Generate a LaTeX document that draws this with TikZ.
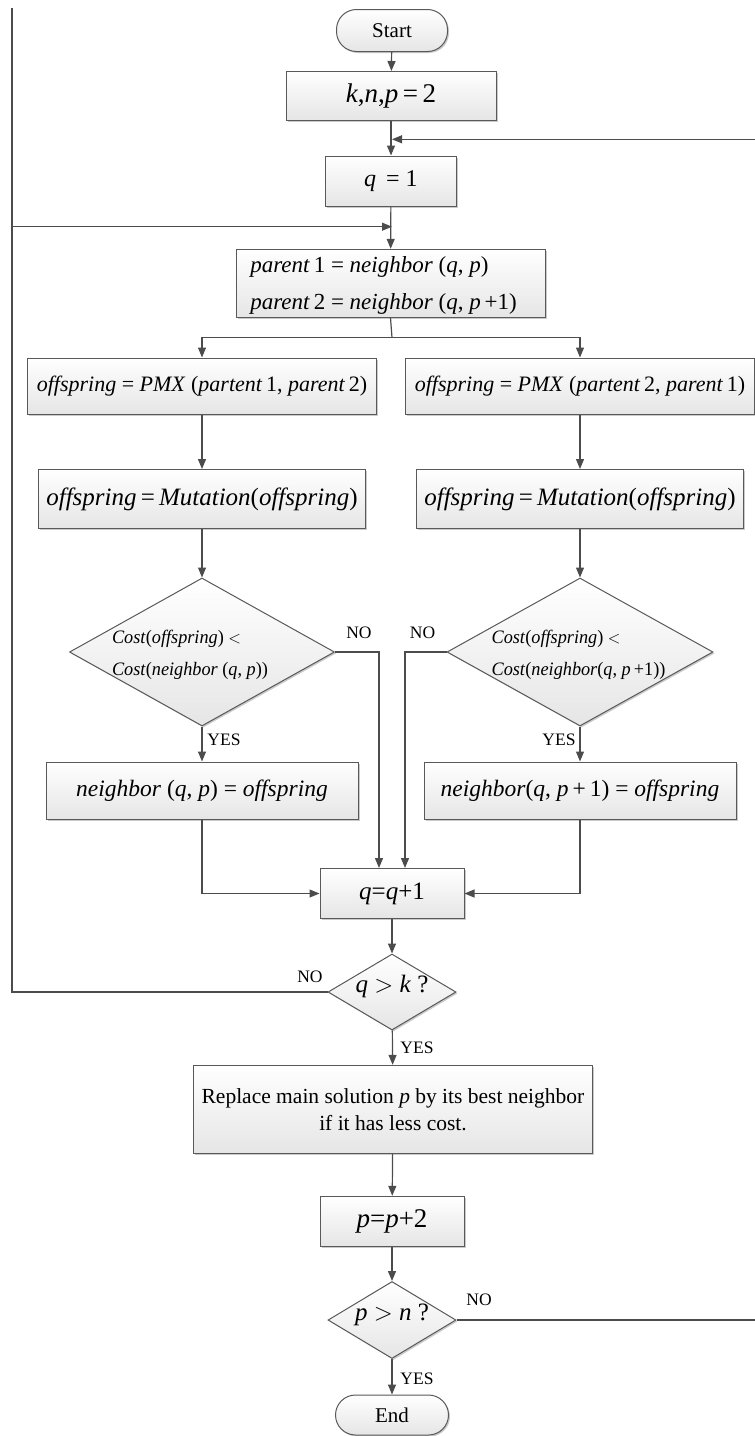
\documentclass[tikz,border=0pt]{standalone}
\usepackage{fontspec}
\usepackage{graphicx}
\setmainfont{Liberation Serif}
\usetikzlibrary{arrows.meta,shapes.geometric,shadows}
\newcommand\itx[1]{\textit{#1}}
\begin{document}
\begin{tikzpicture}[x=1pt,y=-1pt,
  line/.style={draw=black!70, line width=1.2pt},
  arr/.style={line, -{Triangle[length=10pt,width=8pt]}},
  box/.style={draw=black!65, line width=1pt, top color=white, bottom color=black!10,
    drop shadow={shadow xshift=1.5pt,shadow yshift=-1.5pt,fill=black!35,opacity=.6},
    inner sep=0pt, font=\fontsize{22}{26}\selectfont},
  term/.style={box, rounded corners=20pt},
  dia/.style={box, shape=diamond, aspect=1.8},
  lab/.style={font=\fontsize{17.5}{20}\selectfont, inner sep=0pt}
]
\useasboundingbox (0,0) rectangle (755,1436);

% nodes
\node[term, minimum width=111pt, minimum height=42pt, font=\fontsize{21}{26}\selectfont] (start) at (392,30.5) {Start};
\node[box, minimum width=210pt, minimum height=49pt, font=\fontsize{27}{30}\selectfont] (knp) at (391,96) {\itx{k},\itx{n},\itx{p}\,=\,2};
\node[box, minimum width=131pt, minimum height=50pt, font=\fontsize{24}{26}\selectfont] (q1) at (391,181) {\itx{q} \,= 1};
\node[box, minimum width=309pt, minimum height=68pt, font=\fontsize{23}{34}\selectfont] (par) at (390.5,283.3)
  {\smash{\makebox[0pt]{\hspace*{-14pt}\raisebox{-7pt}{\begin{tabular}{@{}l@{}}\itx{parent}\,1 = \itx{neighbor} (\itx{q}, \itx{p})\\[3pt] \itx{parent}\,2 = \itx{neighbor} (\itx{q}, \itx{p}\,+1)\end{tabular}}}}};
\node[box, minimum width=349pt, minimum height=56pt] (pmxL) at (202,386)
  {\itx{offspring} = \itx{PMX} (\itx{partent}\,1, \itx{parent}\,2)};
\node[box, minimum width=349pt, minimum height=56pt] (pmxR) at (580,386)
  {\itx{offspring} = \itx{PMX} (\itx{partent}\,2, \itx{parent}\,1)};
\node[box, minimum width=327pt, minimum height=59pt, font=\fontsize{25}{26}\selectfont] (mutL) at (202,499)
  {\itx{offspring}\,=\,\itx{Mutation}(\itx{offspring})};
\node[box, minimum width=327pt, minimum height=59pt, font=\fontsize{25}{26}\selectfont] (mutR) at (580,499)
  {\itx{offspring}\,=\,\itx{Mutation}(\itx{offspring})};
\node[dia, minimum width=265pt, minimum height=148pt] (diaL) at (202,652)
  {\smash{\makebox[0pt]{\hspace*{-24pt}\raisebox{-6pt}{\scalebox{0.96}[1]{\fontsize{19}{30}\selectfont\begin{tabular}{@{}l@{}}\itx{Cost}(\itx{offspring}) $<$\\[2pt] \itx{Cost}(\itx{neighbor} (\itx{q}, \itx{p}))\end{tabular}}}}}};
\node[dia, minimum width=266pt, minimum height=148pt] (diaR) at (580,652)
  {\smash{\makebox[0pt]{\hspace*{-3pt}\raisebox{-6pt}{\scalebox{0.96}[1]{\fontsize{19}{30}\selectfont\begin{tabular}{@{}l@{}}\itx{Cost}(\itx{offspring}) $<$\\[2pt] \itx{Cost}(\itx{neighbor}(\itx{q}, \itx{p}\,+1))\end{tabular}}}}}};
\node[box, minimum width=312pt, minimum height=57pt, font=\fontsize{23.5}{26}\selectfont] (nbL) at (202,790.5)
  {\itx{neighbor} (\itx{q}, \itx{p}) = \itx{offspring}};
\node[box, minimum width=312pt, minimum height=57pt, font=\fontsize{23.5}{26}\selectfont] (nbR) at (580,790.5)
  {\itx{neighbor}(\itx{q}, \itx{p}\,+\,1) = \itx{offspring}};
\node[box, minimum width=144pt, minimum height=50pt, font=\fontsize{25}{26}\selectfont] (qq) at (392,893.5) {\itx{q}=\itx{q}+1};
\node[dia, minimum width=128pt, minimum height=76pt] (qk) at (392,992)
  {\smash{\makebox[0pt]{\fontsize{25}{26}\selectfont\itx{q} $>$ \itx{k} ?}}};
\node[box, minimum width=399pt, minimum height=88pt, align=center, font=\fontsize{21.5}{27}\selectfont] (rep) at (393,1109.3)
  {Replace main solution \itx{p} by its best neighbor\\ if it has less cost.};
\node[box, minimum width=144pt, minimum height=50pt, font=\fontsize{27}{26}\selectfont] (pp) at (392,1221.3) {\itx{p}=\itx{p}+2};
\node[dia, minimum width=128pt, minimum height=77pt] (pn) at (392,1320)
  {\smash{\makebox[0pt]{\fontsize{25}{26}\selectfont\itx{p} $>$ \itx{n} ?}}};
\node[term, minimum width=113pt, minimum height=40pt, font=\fontsize{21}{26}\selectfont] (end) at (392,1415) {End};

% helper coordinates
\coordinate (j1) at (392,139.3);
\coordinate (j2) at (392,226.7);
\coordinate (sp) at (392,337.7);

% connectors
\draw[arr] (start) -- (knp);
\draw[arr] (knp) -- (q1);
\draw[arr] (q1) -- (par);
\draw[line] (par.south) -- (sp);
\draw[arr] (sp) -| (pmxL.north);
\draw[arr] (sp) -| (pmxR.north);
\draw[arr] (pmxL) -- (mutL);
\draw[arr] (pmxR) -- (mutR);
\draw[arr] (mutL) -- (diaL);
\draw[arr] (mutR) -- (diaR);
\draw[arr] (diaL) -- (nbL);
\draw[arr] (diaR) -- (nbR);
\draw[arr] (nbL.south) |- (qq.west);
\draw[arr] (nbR.south) |- (qq.east);
\draw[arr] (diaL.east) -| ([xshift=-13pt]qq.north);
\draw[arr] (diaR.west) -| ([xshift=13pt]qq.north);
\draw[arr] (qq) -- (qk);
\draw[arr] (qk) -- (rep);
\draw[arr] (rep) -- (pp);
\draw[arr] (pp) -- (pn);
\draw[arr] (pn) -- (end);
\draw[arr] (qk.west) -- (12,992) -- (12,226.7) -- (j2);
\draw[line] (12,8) -- (12,226.7);
\draw[arr] (pn.east) -- (760,1320) -- (760,139.3) -- (j1);

% labels
\node[lab] (noL) at (359,633) {NO};
\node[lab] (noR) at (422.5,633) {NO};
\node[lab] (yesL) at (224,740) {YES};
\node[lab] (yesR) at (559,740) {YES};
\node[lab] (noK) at (310,977) {NO};
\node[lab] (yesK) at (417,1048) {YES};
\node[lab] (noN) at (479,1300) {NO};
\node[lab] (yesN) at (417,1379) {YES};
\end{tikzpicture}
\end{document}
